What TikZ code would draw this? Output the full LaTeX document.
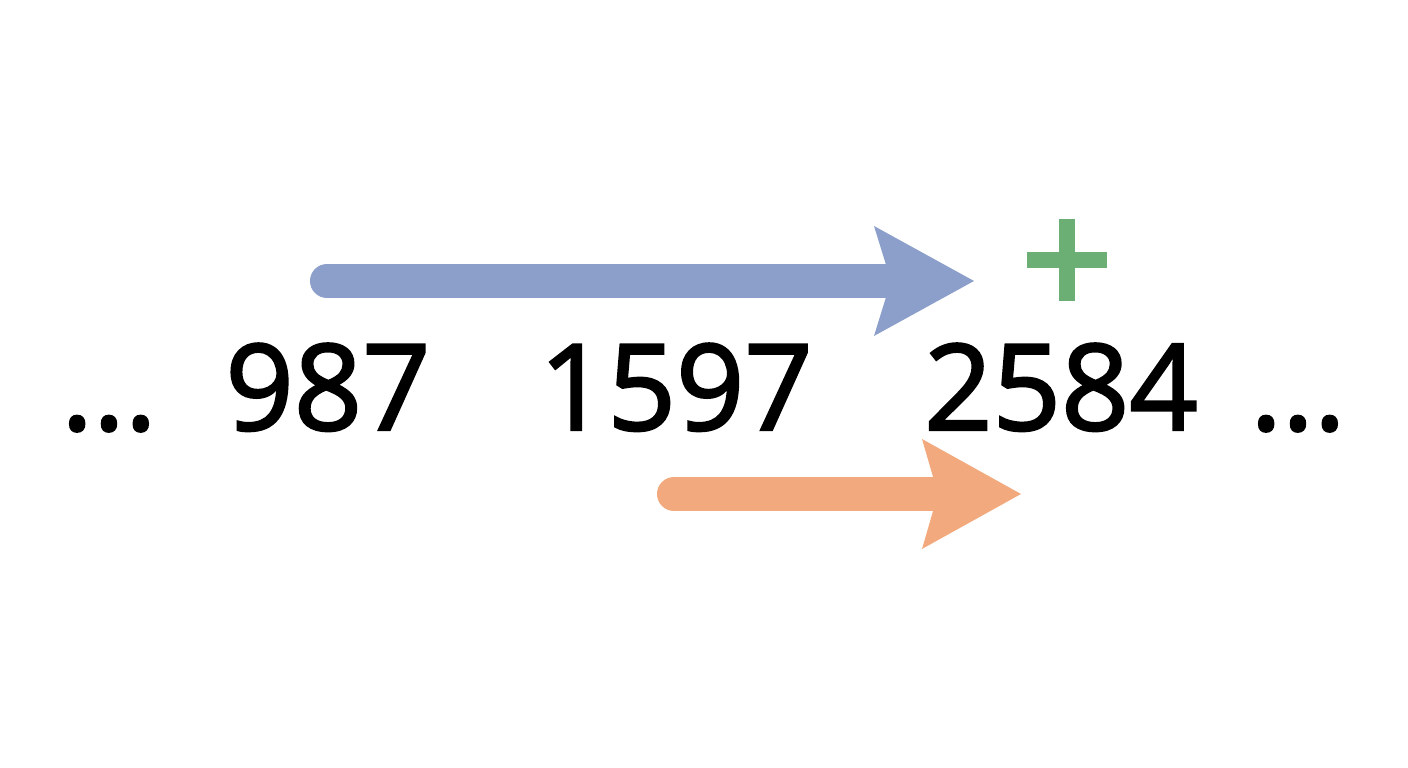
\documentclass[tikz,border=0pt]{standalone}
\usepackage{fontspec}
\setmainfont{Open Sans}
\newfontfamily\numfont{Open Sans}[FakeBold=2]
\usetikzlibrary{positioning}
\definecolor{addblue}{HTML}{8C9FCA}
\definecolor{addorange}{HTML}{F2A97E}
\definecolor{plusgreen}{HTML}{6BAF75}
\tikzset{num/.style = {anchor = base, inner sep = 0,
                       font = \numfont\fontsize{34}{40}\selectfont}}
\tikzset{shaft/.style = {line width = 0.34cm, line cap = round}}
\tikzset{plusbar/.style = {line width = 0.155cm, plusgreen}}

\begin{document}
\begin{tikzpicture}[x=0.01cm, y=-0.01cm]
  \useasboundingbox (0, 0) rectangle (1408, 768);
  \node [num] (dotsl) at (109, 430) {...};
  \node [num] (n987) at (328, 430) {987};
  \node [num] (n1597) at (676, 430) {1597};
  \node [num] (n2584) at (1061, 430) {2584};
  \node [num] (dotsr) at (1298, 430) {...};
  % first summand arrow
  \coordinate (bstart) at (327, 281);
  \coordinate (btip) at (974, 281);
  \draw [shaft, addblue] (bstart) -- (893, 281);
  \fill [addblue] (btip) -- (874, 226) -- (891, 281) -- (874, 336) -- cycle;
  % second summand arrow
  \coordinate (ostart) at (674, 494);
  \coordinate (otip) at (1021, 494);
  \draw [shaft, addorange] (ostart) -- (940, 494);
  \fill [addorange] (otip) -- (922, 439) -- (938, 494) -- (922, 549) -- cycle;
  % plus sign
  \draw [plusbar] (1067, 219) -- (1067, 301);
  \draw [plusbar] (1027, 260) -- (1107, 260);
\end{tikzpicture}
\end{document}
